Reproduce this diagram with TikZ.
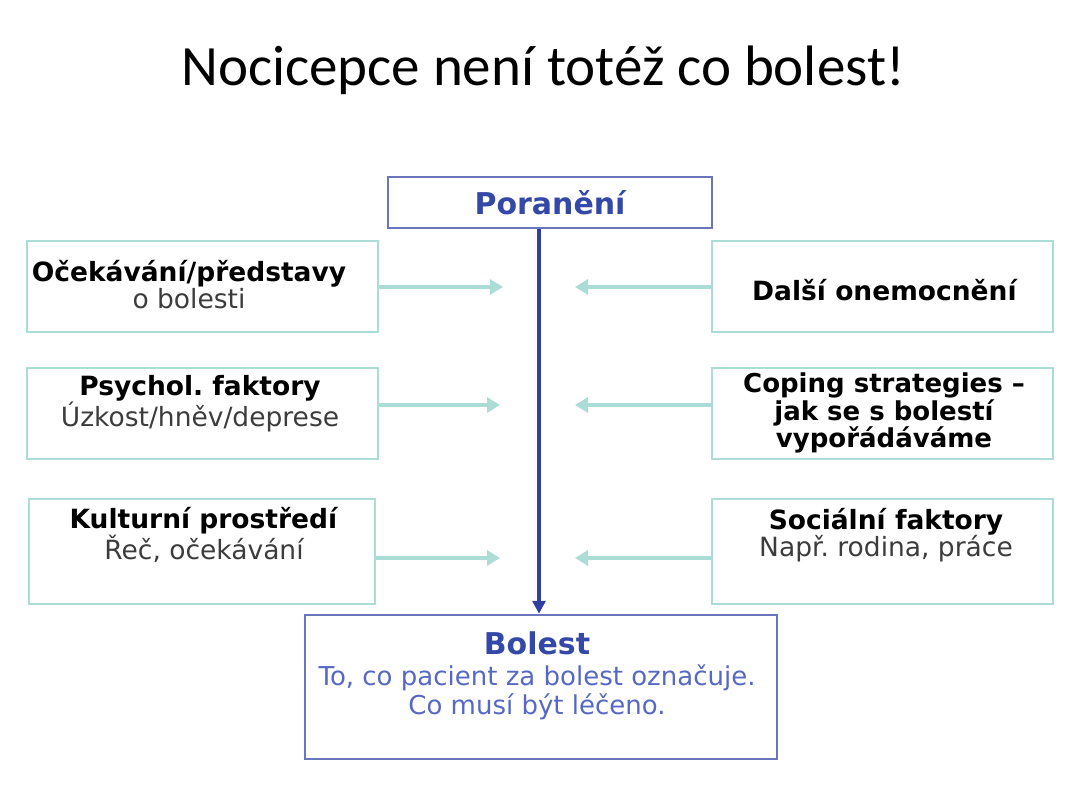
\documentclass[tikz,border=0pt]{standalone}
\usepackage{fontspec}
\setmainfont{DejaVu Sans}
\newfontfamily\titlefont{Carlito}
\usetikzlibrary{arrows.meta}
\frenchspacing

\definecolor{tealline}{RGB}{172,220,214}
\definecolor{boxblue}{RGB}{104,118,190}
\definecolor{darkblue}{RGB}{48,62,160}
\definecolor{textblue}{RGB}{52,72,168}
\definecolor{lightblue}{RGB}{86,104,196}
\definecolor{greytext}{RGB}{60,60,60}

\tikzset{
  sidebox/.style={draw=tealline, line width=2.5pt, rectangle},
  bluebox/.style={draw=boxblue, line width=2.5pt, rectangle},
  sidetext/.style={align=center, font=\fontsize{26.5}{27}\selectfont, text=black},
  infl/.style={draw=tealline, line width=4.5pt, -{Triangle[length=13pt,width=15pt]}},
}

\begin{document}
\begin{tikzpicture}[x=1pt,y=-1pt]
\useasboundingbox (0,0) rectangle (1085,800);

\node[font=\titlefont\fontsize{57}{60}\selectfont] (title) at (543,70) {Nocicepce není totéž co bolest!};

\node[bluebox, minimum width=324pt, minimum height=51pt, font=\bfseries\fontsize{30}{32}\selectfont, text=textblue] (poran) at (550,202.5) {Poranění};

% left side
\node[sidebox, minimum width=351pt, minimum height=91pt] (ocek) at (202.5,286.5) {};
\node[sidetext] (ocektxt) at (189,285) {\textbf{Očekávání/představy}\\{\color{greytext}o bolesti}};
\node[sidebox, minimum width=351pt, minimum height=91pt] (psych) at (202.5,413.5) {};
\node[sidetext] (psychtxt) at (200,404) {\textbf{Psychol. faktory}\\{\color{greytext}Úzkost/hněv/deprese}};
\node[sidebox, minimum width=346pt, minimum height=105pt] (kult) at (202,551.5) {};
\node[sidetext] (kulttxt) at (204,535) {\textbf{Kulturní prostředí}\\{\color{greytext}Řeč, očekávání}};

% right side
\node[sidebox, minimum width=341pt, minimum height=91pt] (dalsi) at (882.5,286.5) {};
\node[sidetext] (dalsitxt) at (885,290) {\textbf{Další onemocnění}};
\node[sidebox, minimum width=341pt, minimum height=91pt] (coping) at (882.5,413.5) {};
\node[sidetext, font=\bfseries\fontsize{26}{27.5}\selectfont] (copingtxt) at (884,413) {Coping strategies –\\jak se s bolestí\\vypořádáváme};
\node[sidebox, minimum width=341pt, minimum height=105pt] (soc) at (882.5,551.5) {};
\node[sidetext] (soctxt) at (886,535) {\textbf{Sociální faktory}\\{\color{greytext}Např. rodina, práce}};

% result
\node[bluebox, minimum width=472pt, minimum height=144pt] (bolest) at (541,687) {};
\node[align=center, font=\fontsize{26}{29}\selectfont, text=lightblue] (bolesttxt) at (537,676) {{\bfseries\fontsize{30}{30}\selectfont\color{textblue}Bolest}\\[2pt]To, co pacient za bolest označuje.\\Co musí být léčeno.};

% arrows into the middle
\coordinate (ocekend) at (503,287);
\coordinate (psychend) at (500,405);
\coordinate (kultend) at (500,558);
\coordinate (dalsiend) at (575,287);
\coordinate (copingend) at (575,405);
\coordinate (socend) at (575,558);

\draw[infl] (ocek.east |- ocekend) -- (ocekend);
\draw[infl] (psych.east |- psychend) -- (psychend);
\draw[infl] (kult.east |- kultend) -- (kultend);
\draw[infl] (dalsi.west |- dalsiend) -- (dalsiend);
\draw[infl] (coping.west |- copingend) -- (copingend);
\draw[infl] (soc.west |- socend) -- (socend);

\draw[darkblue, line width=3.5pt, -{Triangle[length=13pt,width=13pt]}] (poran.south -| 539,0) -- (bolest.north -| 539,0);

\end{tikzpicture}
\end{document}
